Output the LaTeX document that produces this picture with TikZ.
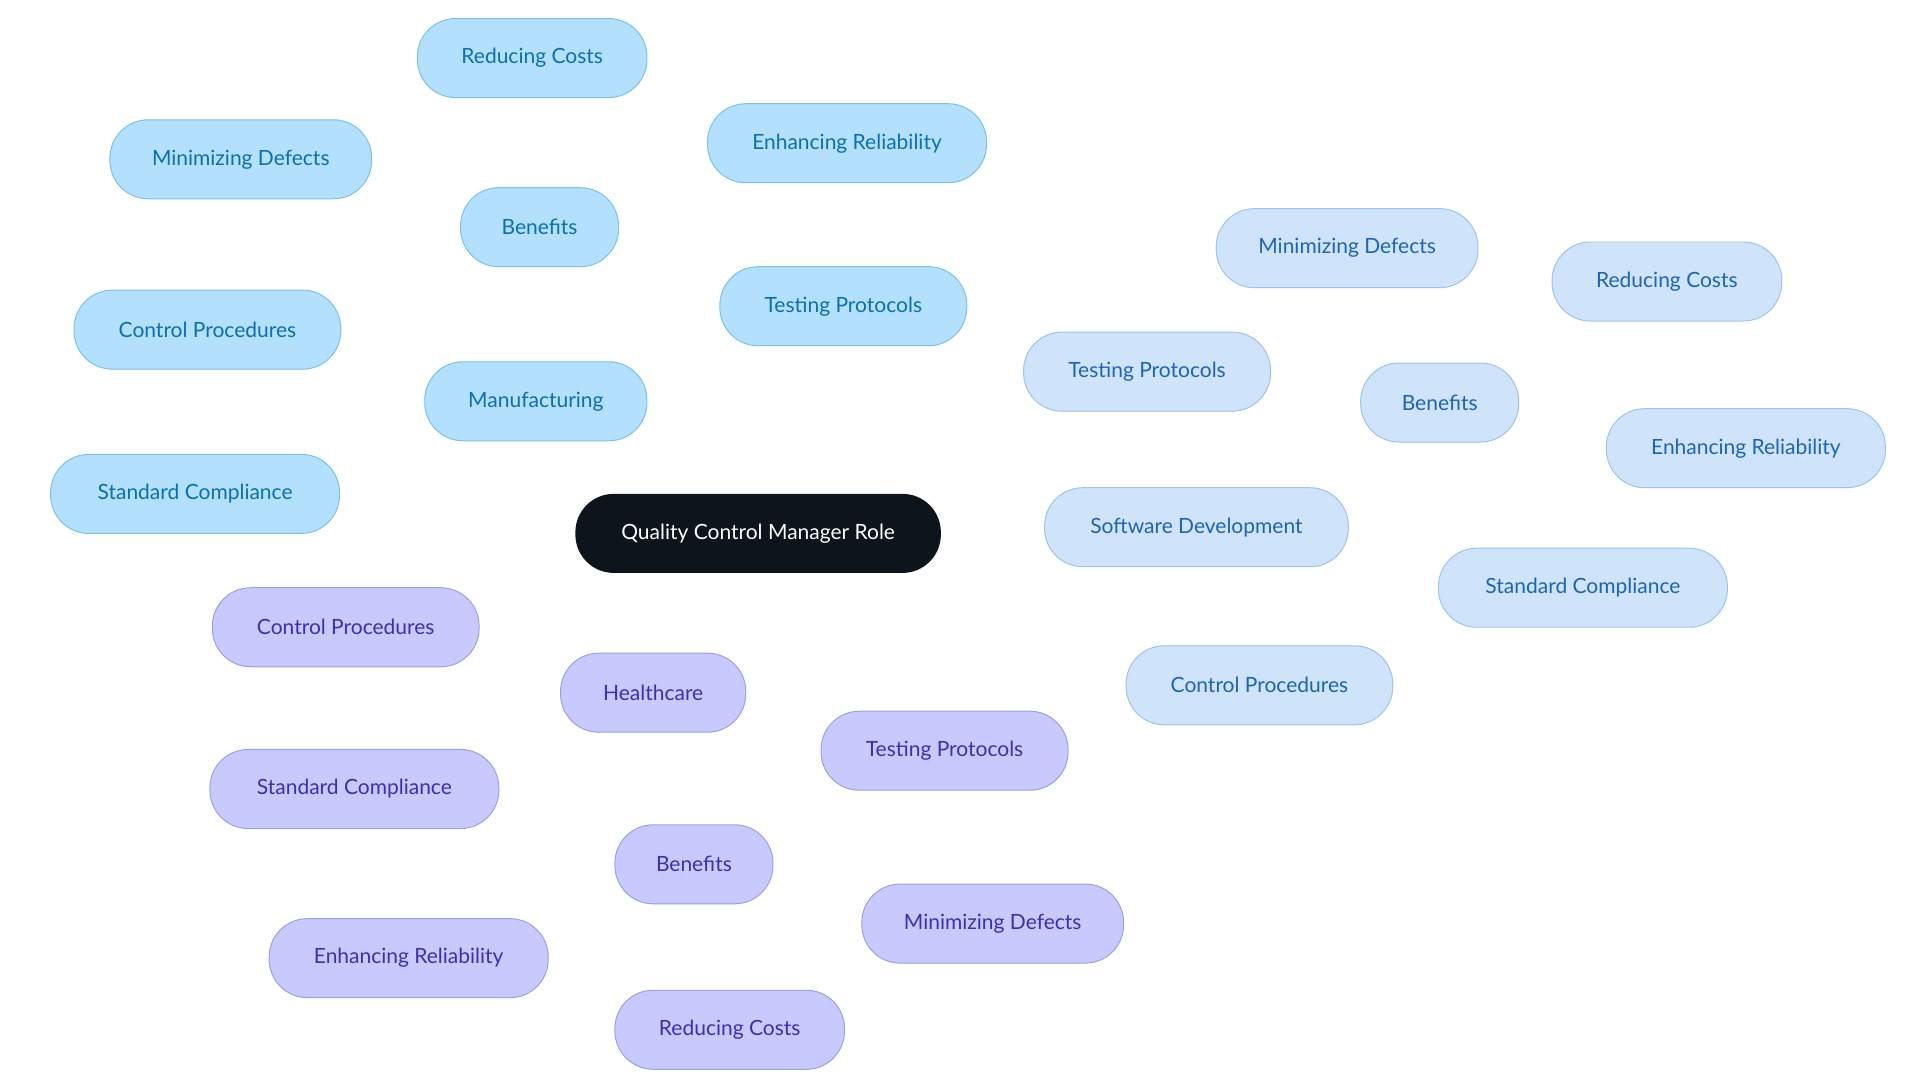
\documentclass[tikz,border=0pt]{standalone}
\usepackage{fontspec}
\setmainfont{Lato}
\begin{document}
\begin{tikzpicture}[x=1pt,y=-1pt,
 base/.style={rounded corners=31pt,minimum height=64pt,inner sep=0pt,font=\fontsize{17}{20}\selectfont,line width=0.8pt},
 mf/.style={base,fill=mfF,draw=mfD,text=mfT},
 sw/.style={base,fill=swF,draw=swD,text=swT},
 hc/.style={base,fill=hcF,draw=hcD,text=hcT},
 me/.style={draw=mfE,line width=2pt},
 se/.style={draw=swE,line width=2pt},
 he/.style={draw=hcE,line width=2pt}]
\definecolor{mfF}{HTML}{B3E0FD}\definecolor{mfD}{HTML}{7CC0EC}\definecolor{mfT}{HTML}{0B6FB5}\definecolor{mfE}{HTML}{7EBDE6}
\definecolor{swF}{HTML}{CFE3FB}\definecolor{swD}{HTML}{9DC3EE}\definecolor{swT}{HTML}{1D64B8}\definecolor{swE}{HTML}{A0C4EC}
\definecolor{hcF}{HTML}{C8C9FD}\definecolor{hcD}{HTML}{9D9EE8}\definecolor{hcT}{HTML}{3B2FB5}\definecolor{hcE}{HTML}{9D9BE6}
\definecolor{rootF}{HTML}{0D141B}
\useasboundingbox (0,0) rectangle (1555,877);
% edges first
\coordinate (d) at (0,0);
\begin{scope}[on background layer/.style={}]
\end{scope}
\node[base,fill=rootF,text=white,minimum width=296pt] (root) at (614,432) {Quality Control Manager Role};
\node[mf,minimum width=180pt] (m) at (434,325) {Manufacturing};
\node[mf,minimum width=128pt] (mb) at (437,184) {Benefits};
\node[mf,minimum width=186pt] (mb1) at (431,47) {Reducing Costs};
\node[mf,minimum width=212pt] (mb2) at (195,129) {Minimizing Defects};
\node[mf,minimum width=226pt] (mb3) at (686,116) {Enhancing Reliability};
\node[mf,minimum width=200pt] (m1) at (683,248) {Testing Protocols};
\node[mf,minimum width=216pt] (m2) at (168,267) {Control Procedures};
\node[mf,minimum width=234pt] (m3) at (158,400) {Standard Compliance};
\node[sw,minimum width=246pt] (s) at (969,427) {Software Development};
\node[sw,minimum width=128pt] (sb) at (1166,326) {Benefits};
\node[sw,minimum width=212pt] (sb1) at (1091,201) {Minimizing Defects};
\node[sw,minimum width=186pt] (sb2) at (1350,228) {Reducing Costs};
\node[sw,minimum width=226pt] (sb3) at (1414,363) {Enhancing Reliability};
\node[sw,minimum width=200pt] (s1) at (929,301) {Testing Protocols};
\node[sw,minimum width=234pt] (s2) at (1282,476) {Standard Compliance};
\node[sw,minimum width=216pt] (s3) at (1020,555) {Control Procedures};
\node[hc,minimum width=150pt] (h) at (529,561) {Healthcare};
\node[hc,minimum width=216pt] (h1) at (280,508) {Control Procedures};
\node[hc,minimum width=234pt] (h2) at (287,639) {Standard Compliance};
\node[hc,minimum width=200pt] (h3) at (765,608) {Testing Protocols};
\node[hc,minimum width=128pt] (hb) at (562,700) {Benefits};
\node[hc,minimum width=212pt] (hb1) at (804,748) {Minimizing Defects};
\node[hc,minimum width=226pt] (hb2) at (331,776) {Enhancing Reliability};
\node[hc,minimum width=186pt] (hb3) at (591,834) {Reducing Costs};
\end{tikzpicture}
\end{document}
